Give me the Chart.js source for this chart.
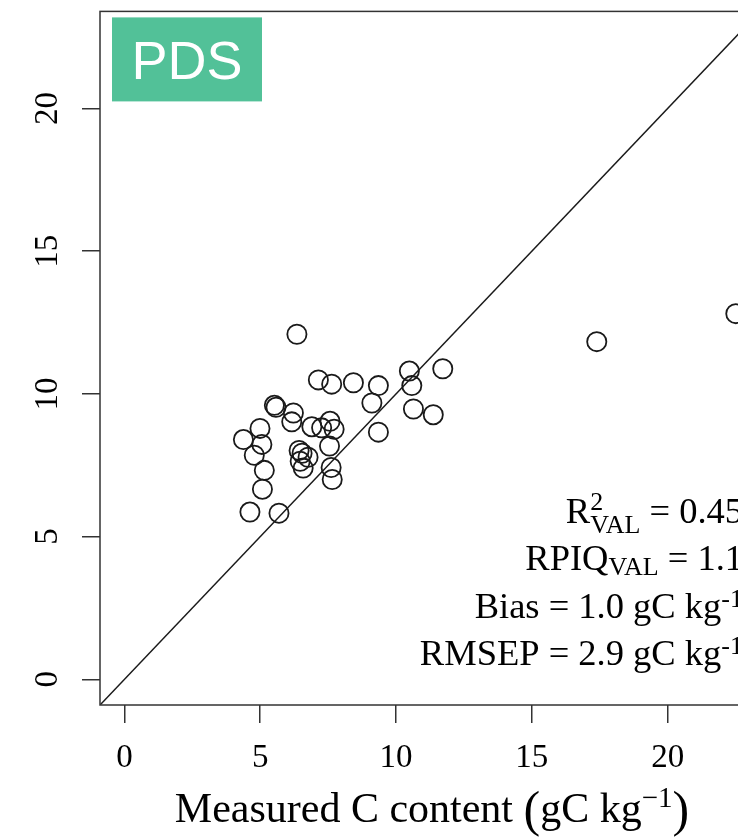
<!DOCTYPE html>
<html>
<head>
<meta charset="utf-8">
<script src="https://cdn.jsdelivr.net/npm/chart.js@4/dist/chart.umd.min.js"></script>
<style>
  html, body { margin: 0; padding: 0; background: #fff; overflow: hidden; }
  #wrap { width: 738px; height: 839px; overflow: hidden; position: relative; }
  canvas { display: block; }
</style>
</head>
<body>
<div id="wrap"><canvas id="c" width="780" height="839"></canvas></div>
<script>
// Measured vs. predicted carbon content (gC kg-1), validation set
const measured = [
  6.35, 17.39, 22.51, 7.14, 7.63, 8.43, 10.49, 11.72, 9.35, 10.58,
  9.11, 10.64, 11.37, 9.35, 5.52, 5.58, 6.22, 6.16, 6.90, 7.26,
  7.57, 7.72, 7.55, 7.61, 7.65, 4.99, 5.06, 4.38, 4.78, 5.15,
  5.08, 4.62, 5.69, 6.43, 6.54, 6.76, 6.47, 6.58
];
const predicted = [
  12.09, 11.83, 12.81, 10.49, 10.34, 10.39, 10.80, 10.88, 10.29, 10.29,
  9.68, 9.47, 9.27, 8.66, 9.60, 9.53, 9.33, 9.02, 8.85, 8.81,
  9.04, 8.76, 8.17, 7.42, 7.00, 8.79, 8.23, 8.40, 7.85, 7.32,
  6.66, 5.86, 5.82, 8.02, 7.92, 7.78, 7.64, 7.40
];
const tickValues = [0, 5, 10, 15, 20];
const axisMin = -0.9;
const axisMax = 23.4;
const panelLabel = 'PDS';
const statR2 = '0.45';
const statRPIQ = '1.1';
const statBias = '1.0';
const statRMSEP = '2.9';
const xTitle = 'Measured C content ';
const unitText = 'gC kg';

const SERIF = '"Liberation Serif", "Times New Roman", serif';
const INK = '#1a1a1a';
const FRAME = '#333';

// Draws a run of text pieces (with sub/superscripts) anchored on a baseline
function drawRich(ctx, segs, anchorX, baseline, align) {
  let total = 0;
  segs.forEach(s => {
    ctx.font = s.size + 'px ' + SERIF;
    if (s.stack) {
      s.w = Math.max(...s.stack.map(p => ctx.measureText(p.t).width));
    } else {
      s.w = ctx.measureText(s.t).width;
    }
    total += s.w;
  });
  let x = align === 'center' ? anchorX - total / 2 : anchorX - total;
  ctx.textAlign = 'left';
  ctx.textBaseline = 'alphabetic';
  segs.forEach(s => {
    ctx.font = s.size + 'px ' + SERIF;
    if (s.stack) {
      s.stack.forEach(p => ctx.fillText(p.t, x, baseline + p.dy));
    } else {
      ctx.fillText(s.t, x, baseline + (s.dy || 0));
    }
    x += s.w;
  });
}

const framePlugin = {
  id: 'frame',
  afterDraw(chart) {
    const { ctx, chartArea: a, scales } = chart;
    ctx.save();

    // plot box
    ctx.strokeStyle = FRAME;
    ctx.lineWidth = 1.5;
    ctx.strokeRect(a.left, a.top, a.right - a.left, a.bottom - a.top);

    // rotated y tick labels
    ctx.fillStyle = '#000';
    ctx.font = '33px ' + SERIF;
    ctx.textAlign = 'center';
    ctx.textBaseline = 'alphabetic';
    scales.y.ticks.forEach(t => {
      const py = scales.y.getPixelForValue(t.value);
      ctx.save();
      ctx.translate(a.left - 43, py);
      ctx.rotate(-Math.PI / 2);
      ctx.fillText(String(t.value), 0, 0);
      ctx.restore();
    });

    // x axis title
    const F = 42, S = 29, P = 50;
    drawRich(ctx, [
      { t: xTitle, size: F },
      { t: '(', size: P, dy: 4 },
      { t: unitText, size: F },
      { t: '\u22121', size: S, dy: -15 },
      { t: ')', size: P, dy: 4 }
    ], (a.left + a.right) / 2 + 2, a.bottom + 117, 'center');

    // validation statistics
    const T = 36.5, s = 26;
    const rx = a.right - 17;
    drawRich(ctx, [
      { t: 'R', size: T },
      { stack: [{ t: '2', dy: -13 }, { t: 'VAL', dy: 10 }], size: s },
      { t: ' = ' + statR2, size: T }
    ], rx, a.bottom - 182, 'right');
    drawRich(ctx, [
      { t: 'RPIQ', size: T },
      { t: 'VAL', size: s, dy: 5 },
      { t: ' = ' + statRPIQ, size: T }
    ], rx, a.bottom - 135, 'right');
    drawRich(ctx, [
      { t: 'Bias = ' + statBias + ' ' + unitText, size: T },
      { t: '-1', size: s, dy: -11 }
    ], rx, a.bottom - 87, 'right');
    drawRich(ctx, [
      { t: 'RMSEP = ' + statRMSEP + ' ' + unitText, size: T },
      { t: '-1', size: s, dy: -11 }
    ], rx, a.bottom - 40, 'right');

    // panel tag
    ctx.fillStyle = '#52c198';
    ctx.fillRect(a.left + 12, a.top + 6, 150, 84);
    ctx.fillStyle = '#fff';
    ctx.font = '54px "Liberation Sans", Arial, sans-serif';
    ctx.textAlign = 'center';
    ctx.textBaseline = 'alphabetic';
    ctx.fillText(panelLabel, a.left + 87, a.top + 68);

    ctx.restore();
  }
};

const points = measured.map((x, i) => ({ x: x, y: predicted[i] }));

new Chart(document.getElementById('c'), {
  type: 'scatter',
  data: {
    datasets: [
      {
        type: 'line',
        data: [{ x: axisMin, y: axisMin }, { x: axisMax, y: axisMax }],
        borderColor: INK,
        borderWidth: 1.5,
        pointRadius: 0,
        fill: false
      },
      {
        data: points,
        pointStyle: 'circle',
        pointRadius: 9.6,
        pointHoverRadius: 9.6,
        pointBorderWidth: 1.8,
        borderColor: INK,
        backgroundColor: 'rgba(0,0,0,0)'
      }
    ]
  },
  options: {
    responsive: false,
    animation: false,
    devicePixelRatio: 1,
    events: [],
    layout: { padding: { top: 8, right: 20, left: 0, bottom: 0 } },
    plugins: { legend: { display: false }, tooltip: { enabled: false } },
    scales: {
      x: {
        type: 'linear',
        min: axisMin,
        max: axisMax,
        afterBuildTicks: sc => { sc.ticks = tickValues.map(v => ({ value: v })); },
        afterFit: sc => { sc.height = 134; },
        border: { display: false },
        grid: { drawOnChartArea: false, drawTicks: true, tickLength: 18, color: FRAME, lineWidth: 1.5 },
        ticks: {
          font: { family: SERIF, size: 33 },
          color: '#000',
          padding: 16,
          maxRotation: 0,
          autoSkip: false
        }
      },
      y: {
        type: 'linear',
        min: axisMin,
        max: axisMax,
        afterBuildTicks: sc => { sc.ticks = tickValues.map(v => ({ value: v })); },
        afterFit: sc => { sc.width = 100; },
        border: { display: false },
        grid: { drawOnChartArea: false, drawTicks: true, tickLength: 18, color: FRAME, lineWidth: 1.5 },
        ticks: { display: false }
      }
    }
  },
  plugins: [framePlugin]
});
</script>
</body>
</html>
